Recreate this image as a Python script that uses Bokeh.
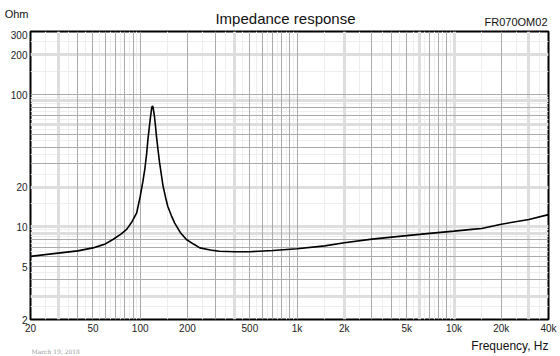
from bokeh.plotting import figure
from bokeh.layouts import column
from bokeh.models import FixedTicker, Grid, ColumnDataSource, Range1d
from bokeh.core.properties import value
from bokeh.embed import file_html
from bokeh.resources import INLINE

# ---- data ----
freq = [20, 30, 40, 50, 55, 60, 67, 75, 82, 88, 95, 100, 104, 107, 110, 112,
        114, 116, 118, 119, 120, 121, 123, 125, 127, 130, 133, 137, 140, 145,
        150, 158, 166, 180, 197, 220, 240, 280, 320, 400, 500, 700, 1000, 1500,
        2000, 3000, 5000, 7000, 10000, 13000, 15000, 20000, 30000, 40000]
impedance = [6.0, 6.35, 6.6, 6.95, 7.2, 7.45, 8.05, 8.8, 9.6, 10.8, 12.8, 17.0,
             22.0, 27.2, 36.0, 45.7, 55.0, 66.0, 77.0, 81.0, 82.0, 79.0, 70.0,
             59.0, 48.4, 38.0, 30.5, 24.0, 20.3, 16.8, 14.3, 12.2, 10.7, 9.1,
             8.05, 7.4, 6.95, 6.7, 6.56, 6.5, 6.5, 6.65, 6.84, 7.2, 7.6, 8.1,
             8.6, 8.95, 9.3, 9.6, 9.75, 10.5, 11.4, 12.4]

x_ticks = [20, 50, 100, 200, 500, 1000, 2000, 5000, 10000, 20000, 40000]
x_tick_labels = ["20", "50", "100", "200", "500", "1k", "2k", "5k", "10k", "20k", "40k"]
y_ticks = [2, 5, 10, 20, 100, 200, 300]
y_tick_labels = ["2", "5", "10", "20", "100", "200", "300"]

x_light_bands = [30, 400, 2000, 6000, 10000, 30000]
y_light_bands = [3, 9, 10, 20, 60, 90, 200]

title_text = "Impedance response"
model_text = "FR070OM02"
y_title = "Ohm"
x_title = "Frequency, Hz"
date_text = "March 19, 2018"

FONT = "Liberation Sans"
LEFT, RIGHT = 30, 12          # page px left / right of the plot box
FRAME_W, FRAME_H = 518, 288
W = LEFT + FRAME_W + RIGHT


def strip(fig):
    fig.xgrid.grid_line_color = None
    fig.ygrid.grid_line_color = None
    fig.outline_line_color = None
    fig.background_fill_color = "white"
    fig.border_fill_color = "white"


# ---------- header (texts above the plot box); its frame aligns with the chart's ----------
HEAD_FH = 26
head = figure(frame_width=FRAME_W, frame_height=HEAD_FH,
              x_range=Range1d(LEFT, LEFT + FRAME_W), y_range=Range1d(HEAD_FH, 0),
              output_backend="svg", toolbar_location=None,
              min_border_left=LEFT, min_border_right=RIGHT, min_border_top=0,
              min_border_bottom=4, x_axis_location=None, title=None)
strip(head)
hy = head.yaxis[0]
hy.ticker = FixedTicker(ticks=[])
hy.axis_line_color = None
hy.major_tick_line_color = None
hy.minor_tick_line_color = None
hy.major_tick_out = 0
hy.major_label_text_font_size = "0px"
hy.axis_label = y_title
hy.axis_label_orientation = "horizontal"
hy.axis_label_text_font = FONT
hy.axis_label_text_font_size = "11px"
hy.axis_label_text_font_style = "normal"
hy.axis_label_text_color = "#111111"
hy.axis_label_standoff = 2
head.text(x=[285], y=[18], text=[title_text], text_font=value(FONT), text_font_size="15px",
          text_baseline="middle", text_align="center", text_color="#111111")
head.text(x=[547], y=[21], text=[model_text], text_font=value(FONT), text_font_size="11px",
          text_baseline="middle", text_align="right", text_color="#111111")

# ---------- main chart ----------
p = figure(frame_width=FRAME_W, frame_height=FRAME_H, x_axis_type="log", y_axis_type="log",
           x_range=Range1d(20, 40000), y_range=Range1d(2, 300),
           output_backend="svg", toolbar_location=None,
           min_border_left=LEFT, min_border_right=RIGHT, min_border_top=1,
           min_border_bottom=16, title=None)
p.background_fill_color = "white"
p.border_fill_color = "white"
p.outline_line_color = "black"
p.outline_line_width = 2
p.xgrid.grid_line_color = None
p.ygrid.grid_line_color = None

decades_x = [10, 100, 1000, 10000]
x_int = [n * d for d in decades_x for n in range(1, 10) if 20 <= n * d <= 40000]
x_half = [(n + 0.5) * d for d in decades_x for n in range(1, 10) if 20 <= (n + 0.5) * d <= 40000]
x_dark = [v for v in x_int if v not in x_light_bands]
decades_y = [1, 10, 100]
y_int = [n * d for d in decades_y for n in range(1, 10) if 2 <= n * d <= 300]
y_half = [(n + 0.5) * d for d in decades_y for n in range(1, 10) if 2 <= (n + 0.5) * d <= 300]
y_dark = [v for v in y_int if v not in y_light_bands]


def add_grid(dim, ticks, color, width):
    p.add_layout(Grid(dimension=dim, ticker=FixedTicker(ticks=ticks),
                      grid_line_color=color, grid_line_width=width))


add_grid(0, x_half, "#eeeeee", 1)
add_grid(1, y_half, "#eeeeee", 1)
add_grid(0, x_light_bands, "#dedede", 3)
add_grid(1, y_light_bands, "#dedede", 3)
add_grid(0, x_dark, "#ababab", 1)
add_grid(1, y_dark, "#ababab", 1)

src = ColumnDataSource(data=dict(f=freq, z=impedance))
p.line("f", "z", source=src, line_color="black", line_width=1.6)

for ax, ticks, labels in ((p.xaxis[0], x_ticks, x_tick_labels), (p.yaxis[0], y_ticks, y_tick_labels)):
    ax.ticker = FixedTicker(ticks=ticks)
    ax.major_label_overrides = {t: l for t, l in zip(ticks, labels)}
    ax.major_tick_line_color = None
    ax.minor_tick_line_color = None
    ax.major_tick_out = 0
    ax.major_tick_in = 0
    ax.minor_tick_out = 0
    ax.axis_line_color = None
    ax.major_label_text_font = FONT
    ax.major_label_text_font_size = "10px"
    ax.major_label_text_color = "#222222"
    ax.major_label_standoff = 3

# ---------- footer (axis title and date) ----------
FOOT_H = 20
foot = figure(frame_width=FRAME_W, frame_height=FOOT_H,
              x_range=Range1d(LEFT, LEFT + FRAME_W), y_range=Range1d(FOOT_H, 0),
              output_backend="svg", toolbar_location=None,
              min_border_left=LEFT, min_border_right=RIGHT, min_border_top=0,
              min_border_bottom=0, x_axis_location=None, y_axis_location=None, title=None)
strip(foot)
foot.text(x=[548], y=[9], text=[x_title], text_font=value(FONT), text_font_size="12px",
          text_baseline="middle", text_align="right", text_color="#111111")
foot.text(x=[31], y=[15], text=[date_text], text_font=value("DejaVu Serif"), text_font_size="6px",
          text_baseline="middle", text_align="left", text_color="#9a9a9a")

layout = column(head, p, foot, spacing=0)
open("out.html", "w").write(file_html(layout, INLINE))
